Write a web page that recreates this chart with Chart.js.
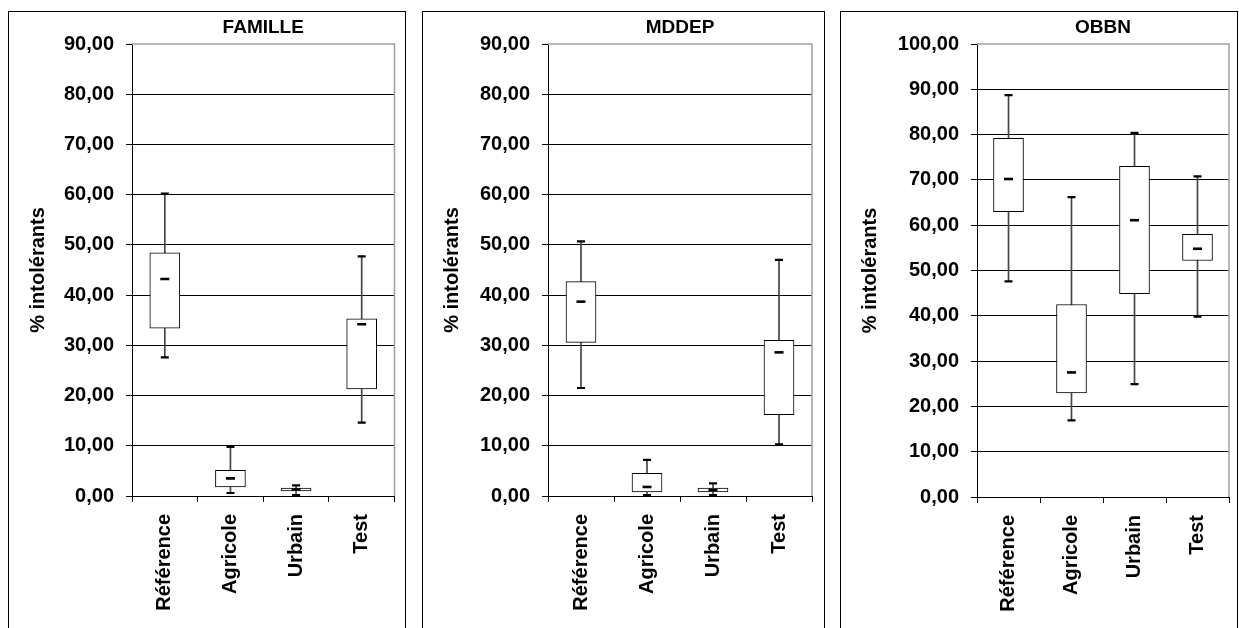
<!DOCTYPE html>
<html>
<head>
<meta charset="utf-8">
<script src="https://cdn.jsdelivr.net/npm/chart.js@4"></script>
<style>
html,body{margin:0;padding:0;background:#fff;overflow:hidden;width:1239px;height:628px;position:relative}
.panel{position:absolute;top:11px;height:650px;border:1px solid #000;box-sizing:border-box;background:#fff}
.panel canvas{position:absolute;left:0;top:0}
</style>
</head>
<body>
<div class="panel" style="left:8px;width:398px"><canvas id="c1" width="396" height="620"></canvas></div>
<div class="panel" style="left:422px;width:403px"><canvas id="c2" width="401" height="620"></canvas></div>
<div class="panel" style="left:840px;width:398px"><canvas id="c3" width="396" height="620"></canvas></div>
<script>
// ---- Data ----
const categories = ['Référence', 'Agricole', 'Urbain', 'Test'];
const panelTitles = ['FAMILLE', 'MDDEP', 'OBBN'];
const yAxisTitle = '% intolérants';
const yMaxValues = [90, 90, 100];

const familleMin    = [27.6, 0.6, 0.2, 14.6];
const familleQ1     = [33.4, 1.8, 1.0, 21.3];
const familleMedian = [43.2, 3.5, 1.3, 34.2];
const familleQ3     = [48.4, 5.1, 1.6, 35.3];
const familleMax    = [60.2, 9.8, 2.1, 47.7];

const mddepMin    = [21.5, 0.2, 0.2, 10.3];
const mddepQ1     = [30.6, 0.8, 0.8, 16.2];
const mddepMedian = [38.7, 1.8, 1.2, 28.6];
const mddepQ3     = [42.7, 4.5, 1.6, 31.0];
const mddepMax    = [50.7, 7.2, 2.5, 47.0];

const obbnMin    = [47.6, 16.9, 24.9, 39.8];
const obbnQ1     = [63.0, 23.0, 44.9, 52.2];
const obbnMedian = [70.2, 27.5, 61.1, 54.8];
const obbnQ3     = [79.2, 42.5, 73.0, 58.0];
const obbnMax    = [88.7, 66.2, 80.4, 70.8];

// ---- Rendering ----
const FONT = "'Liberation Sans', Arial, sans-serif";
Chart.defaults.font.family = FONT;
Chart.defaults.color = '#000';

const framePlugin = {
  id: 'plotFrame',
  beforeDatasetsDraw(chart) {
    const a = chart.chartArea, ctx = chart.ctx;
    ctx.save();
    ctx.strokeStyle = '#a0a0a0';
    ctx.lineWidth = 1.5;
    ctx.beginPath();
    ctx.moveTo(a.left, a.top);
    ctx.lineTo(a.right, a.top);
    ctx.lineTo(a.right, a.bottom);
    ctx.stroke();
    ctx.restore();
  }
};

function fmt(v) { return Number(v).toFixed(2).replace('.', ','); }

function makeBox(canvasId, title, yMax, mins, q1s, meds, q3s, maxs, layoutCfg) {
  const whiskers = categories.map((c, i) => [mins[i], maxs[i]]);
  const boxes = categories.map((c, i) => [q1s[i], q3s[i]]);
  return new Chart(document.getElementById(canvasId), {
    type: 'bar',
    data: {
      labels: categories,
      datasets: [
        { type: 'bar', data: whiskers, backgroundColor: '#444', borderWidth: 0,
          barThickness: 1, grouped: false, order: 4 },
        { type: 'bar', data: boxes, backgroundColor: '#fff', borderColor: '#000',
          borderWidth: 1, borderSkipped: false, barThickness: 30, grouped: false, order: 3 },
        { type: 'line', data: mins, showLine: false, pointStyle: 'line', pointRadius: 4,
          pointBorderWidth: 2.2, borderColor: '#000', order: 2 },
        { type: 'line', data: maxs, showLine: false, pointStyle: 'line', pointRadius: 4,
          pointBorderWidth: 2.2, borderColor: '#000', order: 1 },
        { type: 'line', data: meds, showLine: false, pointStyle: 'line', pointRadius: 4.5,
          pointBorderWidth: 2.6, borderColor: '#000', order: 0 }
      ]
    },
    options: {
      responsive: false,
      animation: false,
      events: [],
      layout: { padding: { left: 0, right: layoutCfg.right, top: 0, bottom: 0 } },
      plugins: {
        legend: { display: false },
        tooltip: { enabled: false },
        title: {
          display: true, text: title, fullSize: false, color: '#000',
          font: { family: FONT, size: 19, weight: 'bold', lineHeight: 1.2632 },
          padding: { top: 4, bottom: 4 }
        }
      },
      scales: {
        x: {
          type: 'category',
          offset: true,
          grid: { offset: true, drawOnChartArea: false, drawTicks: true, tickLength: 6,
                  tickColor: '#000', color: '#000', lineWidth: 1 },
          border: { color: '#000', width: 1 },
          ticks: { autoSkip: false, maxRotation: 90, minRotation: 90, padding: 12,
                   color: '#000', font: { family: FONT, size: 20, weight: 'bold' } },
          afterFit: (s) => { s.height = layoutCfg.xHeight; }
        },
        y: {
          min: 0, max: yMax,
          ticks: { stepSize: 10, autoSkip: false, padding: 12, color: '#000',
                   font: { family: FONT, size: 20, weight: 'bold' },
                   callback: (v) => fmt(v) },
          grid: { drawTicks: true, tickLength: 6, tickColor: '#000', lineWidth: 1,
                  color: (ctx) => (ctx.tick && ctx.tick.value === yMax) ? 'rgba(0,0,0,0)' : '#000' },
          border: { color: '#000', width: 1 },
          title: { display: true, text: yAxisTitle, color: '#000',
                   font: { family: FONT, size: 20, weight: 'bold' },
                   padding: { top: 17, bottom: 0 } },
          afterFit: (s) => { s.width = layoutCfg.yWidth; }
        }
      }
    },
    plugins: [framePlugin]
  });
}

makeBox('c1', panelTitles[0], yMaxValues[0], familleMin, familleQ1, familleMedian, familleQ3, familleMax,
        { right: 10.5, yWidth: 123, xHeight: 136 });
makeBox('c2', panelTitles[1], yMaxValues[1], mddepMin, mddepQ1, mddepMedian, mddepQ3, mddepMax,
        { right: 12, yWidth: 125, xHeight: 136 });
makeBox('c3', panelTitles[2], yMaxValues[2], obbnMin, obbnQ1, obbnMedian, obbnQ3, obbnMax,
        { right: 8, yWidth: 136, xHeight: 135 });
</script>
</body>
</html>
